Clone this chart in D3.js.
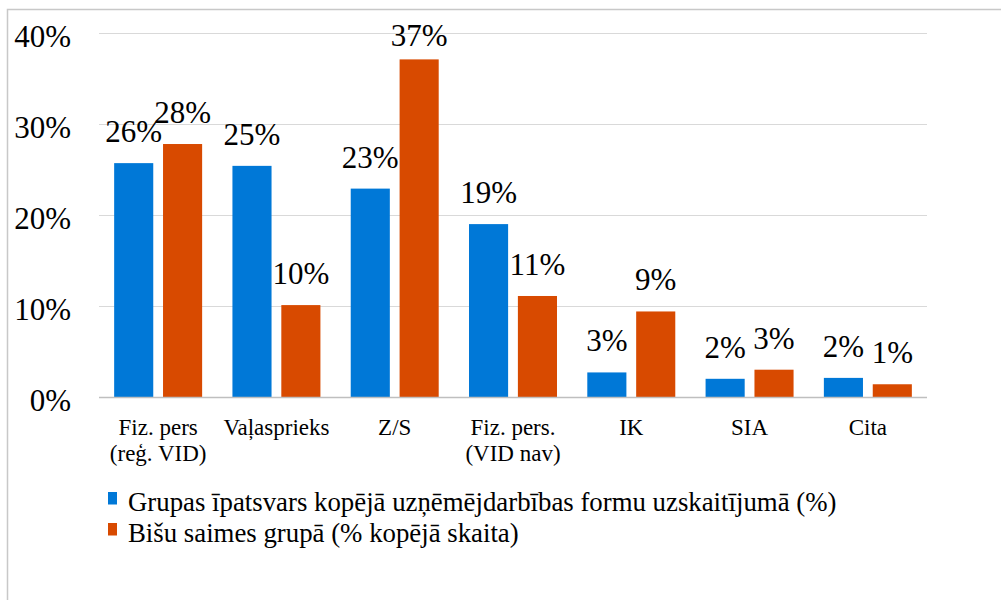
<!DOCTYPE html>
<html>
<head>
<meta charset="utf-8">
<script src="https://cdn.jsdelivr.net/npm/d3@7"></script>
<style>
  body { margin: 0; background: #fff; }
  text { font-family: "Liberation Serif", "Times New Roman", serif; fill: #000; }
</style>
</head>
<body>
<div id="chart"></div>
<script>
// Kategorijas un vērtības (nolasītas no attēla)
const categories = [
  ["Fiz. pers", "(reģ. VID)"],
  ["Vaļasprieks"],
  ["Z/S"],
  ["Fiz. pers.", "(VID nav)"],
  ["IK"],
  ["SIA"],
  ["Cita"]
];
const shareValues = [0.257, 0.254, 0.229, 0.190, 0.027, 0.020, 0.021];
const hiveValues = [0.278, 0.101, 0.371, 0.111, 0.094, 0.030, 0.014];
const seriesNames = [
  "Grupas īpatsvars kopējā uzņēmējdarbības formu uzskaitījumā (%)",
  "Bišu saimes grupā (% kopējā skaita)"
];
const seriesColors = ["#0078d7", "#d84a00"];
const yTicks = [0, 0.1, 0.2, 0.3, 0.4];

const width = 1001, height = 600;
const margin = { top: 33, left: 99, right: 74, bottom: 203 };

const svg = d3.select("#chart").append("svg")
    .attr("width", width)
    .attr("height", height);

// rāmis
svg.append("rect")
    .attr("x", 7.5).attr("y", 9.5)
    .attr("width", width + 20).attr("height", height + 20)
    .attr("fill", "none")
    .attr("stroke", "#c8c8c8")
    .attr("stroke-width", 1.5);

const keys = categories.map((c, i) => i);
const x0 = d3.scaleBand()
    .domain(keys)
    .range([margin.left, width - margin.right]);

const x1 = d3.scaleBand()
    .domain([0, 1])
    .range([0, x0.bandwidth()])
    .paddingInner(0.2)
    .paddingOuter(0.31);

const y = d3.scaleLinear()
    .domain([0, 0.4])
    .range([height - margin.bottom, margin.top]);

// režģa līnijas
svg.append("g")
    .selectAll("line")
    .data(yTicks.filter(t => t > 0))
    .join("line")
    .attr("x1", margin.left).attr("x2", width - margin.right)
    .attr("y1", d => Math.round(y(d)) + 0.5)
    .attr("y2", d => Math.round(y(d)) + 0.5)
    .attr("stroke", "#d9d9d9")
    .attr("stroke-width", 1);

// Y ass
const yAxis = svg.append("g")
    .attr("transform", `translate(71,0)`)
    .call(d3.axisLeft(y).tickValues(yTicks).tickFormat(d3.format(".0%")).tickSize(0).tickPadding(0));
yAxis.select(".domain").remove();
yAxis.selectAll("text")
    .attr("dy", "0.43em")
    .style("font-size", "31px")
    .style("font-family", "Liberation Serif");

// stabiņi
const series = [shareValues, hiveValues];
series.forEach((vals, s) => {
  svg.append("g")
      .selectAll("rect")
      .data(vals)
      .join("rect")
      .attr("x", (d, i) => x0(i) + x1(s))
      .attr("y", d => y(d))
      .attr("width", x1.bandwidth())
      .attr("height", d => y(0) - y(d))
      .attr("fill", seriesColors[s]);

  svg.append("g")
      .selectAll("text")
      .data(vals)
      .join("text")
      .attr("x", (d, i) => x0(i) + x1(s) + x1.bandwidth() / 2)
      .attr("y", d => Math.max(y(d) - 21, 46))
      .attr("text-anchor", "middle")
      .style("font-size", "31px")
      .text(d => d3.format(".0%")(d));
});

// bāzes līnija
svg.append("line")
    .attr("x1", margin.left).attr("x2", width - margin.right)
    .attr("y1", y(0) + 0.5).attr("y2", y(0) + 0.5)
    .attr("stroke", "#bfbfbf")
    .attr("stroke-width", 1.5);

// X ass nosaukumi
const xLabels = svg.append("g")
    .selectAll("text")
    .data(categories)
    .join("text")
    .attr("x", (d, i) => x0(i) + x0.bandwidth() / 2)
    .attr("y", 435)
    .attr("text-anchor", "middle")
    .style("font-size", "23px");
xLabels.selectAll("tspan")
    .data(d => d)
    .join("tspan")
    .attr("x", function () { return this.parentNode.getAttribute("x"); })
    .attr("dy", (d, i) => i === 0 ? 0 : 26)
    .text(d => d);

// leģenda
const legend = svg.append("g")
    .selectAll("g")
    .data(seriesNames)
    .join("g")
    .attr("transform", (d, i) => `translate(108,${492 + i * 31})`);
legend.append("rect")
    .attr("width", 9).attr("height", 12.5)
    .attr("fill", (d, i) => seriesColors[i]);
legend.append("text")
    .attr("x", 20).attr("y", 18.5)
    .style("font-size", "26.8px")
    .text(d => d);
</script>
</body>
</html>
